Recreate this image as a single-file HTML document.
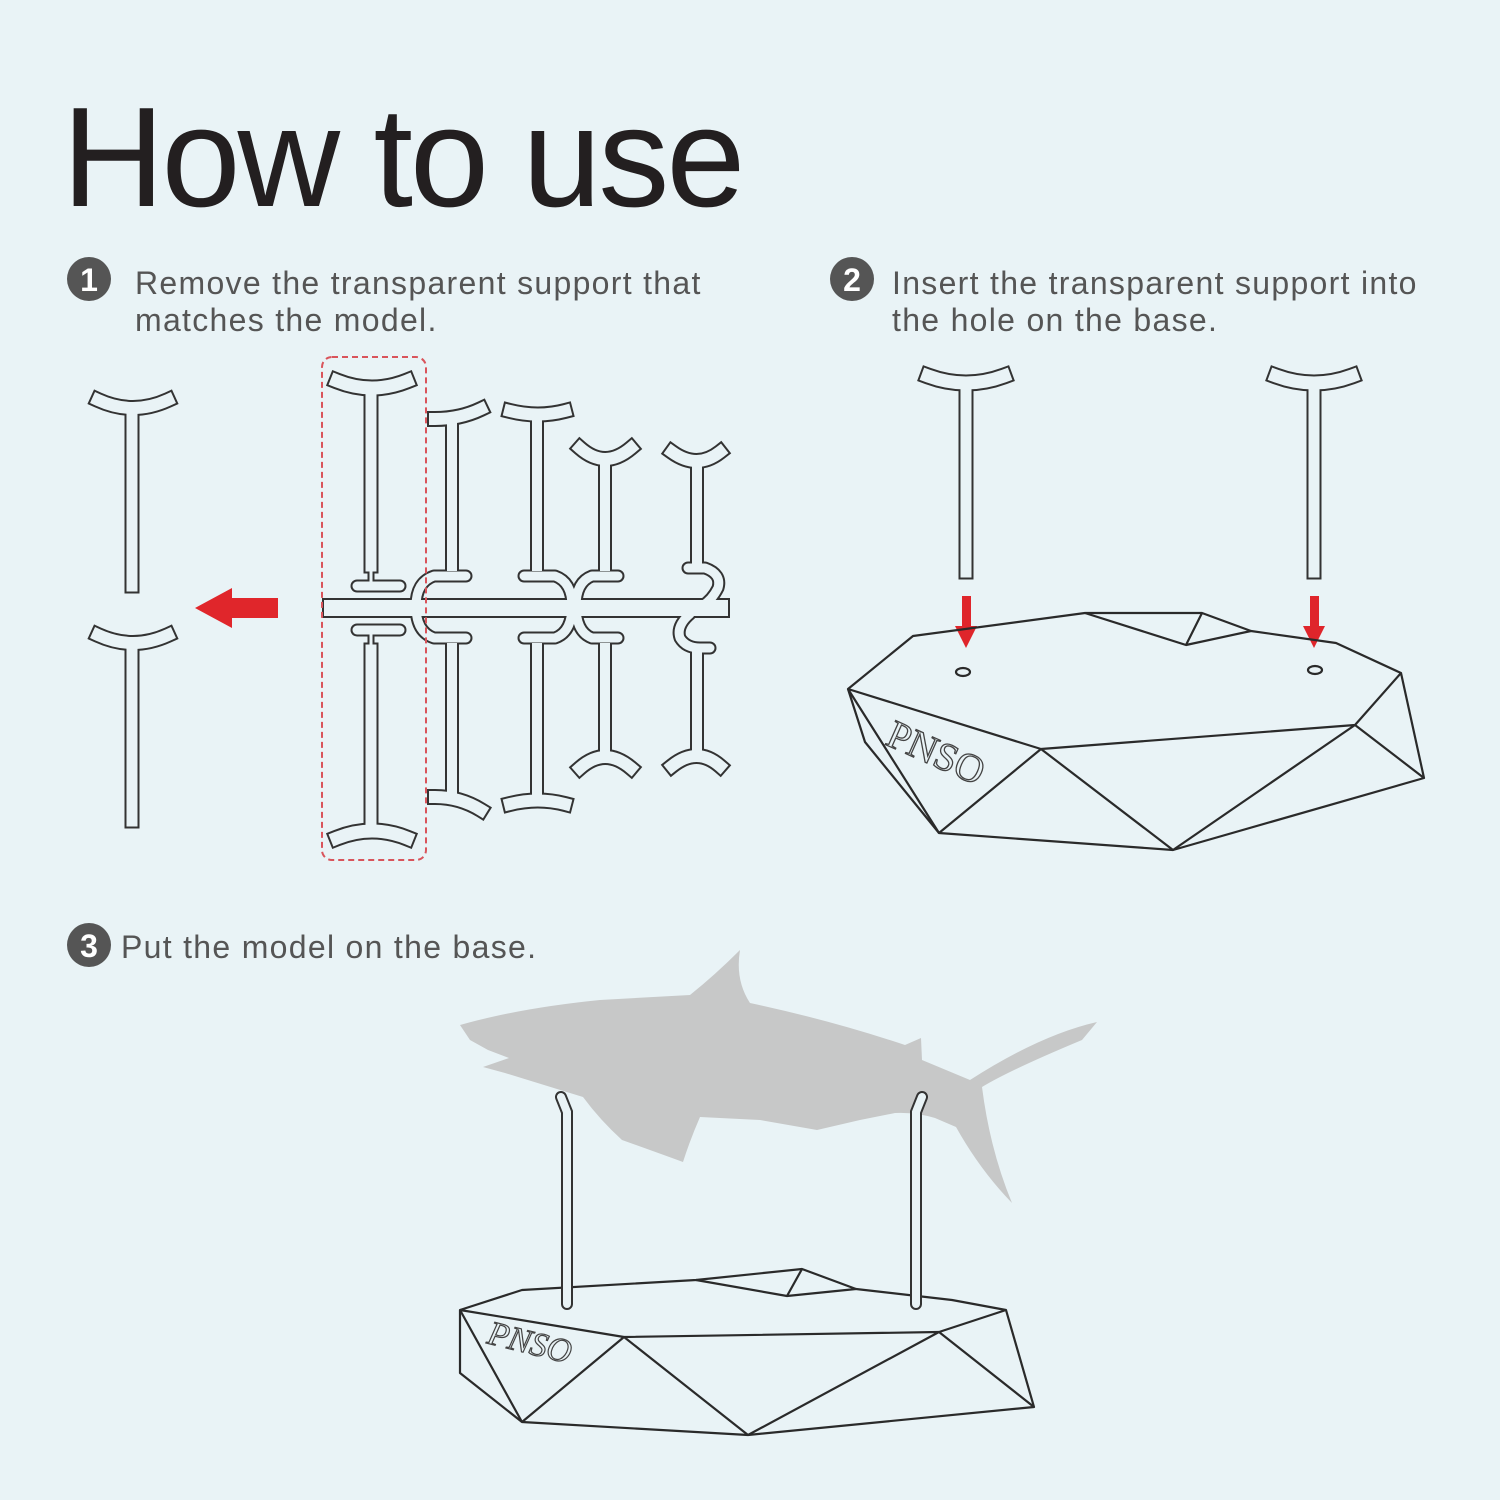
<!DOCTYPE html>
<html><head><meta charset="utf-8"><style>
html,body{margin:0;padding:0;background:#e9f3f6;}
svg{display:block}
</style></head><body>
<svg width="1500" height="1500" viewBox="0 0 1500 1500" xmlns="http://www.w3.org/2000/svg">
<rect width="1500" height="1500" fill="#e9f3f6"/>
<text x="62" y="206" font-family="Liberation Sans, sans-serif" font-size="142" fill="#231f20" letter-spacing="-3">How to use</text>

<g font-family="Liberation Sans, sans-serif" font-size="32" fill="#555" letter-spacing="1.3">
<circle cx="89" cy="279" r="22" fill="#555"/><text x="89" y="291" font-size="32" font-weight="bold" fill="#fff" text-anchor="middle" letter-spacing="0">1</text>
<text x="135" y="294">Remove the transparent support that</text>
<text x="135" y="331">matches the model.</text>
<circle cx="852" cy="279" r="22" fill="#555"/><text x="852" y="291" font-size="32" font-weight="bold" fill="#fff" text-anchor="middle" letter-spacing="0">2</text>
<text x="892" y="294">Insert the transparent support into</text>
<text x="892" y="331">the hole on the base.</text>
<circle cx="89" cy="945" r="22" fill="#555"/><text x="89" y="957" font-size="32" font-weight="bold" fill="#fff" text-anchor="middle" letter-spacing="0">3</text>
<text x="121" y="958">Put the model on the base.</text>
</g>

<defs>
<g id="parts" fill="none">
 <path d="M98,400 Q133,416 168,400" stroke-width="12"/>
 <path d="M132,408 V586" stroke-width="11"/>
 <path d="M98,635 Q133,651 168,635" stroke-width="12"/>
 <path d="M132,643 V821" stroke-width="11"/>
 <path d="M337,381 Q372,395 407,381" stroke-width="13"/>
 <path d="M371,392 V566" stroke-width="11"/>
 <path d="M371,568 V580" stroke-width="5"/>
 <path d="M357,586 H400" stroke-width="9" data-r="1"/>
 <path d="M332,608 H720" stroke-width="16"/>
 <path d="M357,630 H400" stroke-width="9" data-r="1"/>
 <path d="M371,636 V646" stroke-width="5"/>
 <path d="M371,650 V826" stroke-width="11"/>
 <path d="M337,838 Q372,824 407,838" stroke-width="13"/>
 <path d="M466,576 H434 Q416,582 416,606 Q416,632 434,638 H466" stroke-width="9" data-r="1"/>
 <path d="M435,419 Q460,419 481,409" stroke-width="12"/>
 <path d="M452,424 V566" stroke-width="10"/>
 <path d="M452,648 V790" stroke-width="10"/>
 <path d="M435,797 Q460,797 481,810" stroke-width="12"/>
 <path d="M510,411 Q538,418 565,411" stroke-width="12"/>
 <path d="M537,420 V566" stroke-width="10"/>
 <path d="M524,576 H555 Q572,582 572,606 Q572,632 555,638 H524" stroke-width="9" data-r="1"/>
 <path d="M537,648 V798" stroke-width="10"/>
 <path d="M510,804 Q538,797 565,804" stroke-width="12"/>
 <path d="M618,576 H592 Q576,582 576,606 Q576,632 592,638 H618" stroke-width="9" data-r="1"/>
 <path d="M580,448 Q605,470 631,448" stroke-width="12"/>
 <path d="M605,462 V566" stroke-width="10"/>
 <path d="M605,648 V754" stroke-width="10"/>
 <path d="M580,768 Q605,746 631,768" stroke-width="12"/>
 <path d="M672,452 Q697,470 720,452" stroke-width="12"/>
 <path d="M697,464 V562" stroke-width="10"/>
 <path d="M688,568 H705 Q722,574 718,588 Q712,600 702,606" stroke-width="9" data-r="1"/>
 <path d="M690,614 Q676,626 680,638 Q686,648 700,648 H710" stroke-width="9" data-r="1"/>
 <path d="M697,656 V754" stroke-width="10"/>
 <path d="M672,766 Q697,746 720,766" stroke-width="12"/>
 <path d="M928,376 Q966,390 1004,376" stroke-width="13"/>
 <path d="M966,388 V572" stroke-width="11"/>
 <path d="M1276,376 Q1314,390 1352,376" stroke-width="13"/>
 <path d="M1314,388 V572" stroke-width="11"/>
</g>
</defs>

<rect x="322" y="357" width="104" height="503" rx="10" fill="none" stroke="#d9545b" stroke-width="2" stroke-dasharray="6,4"/>

<polygon points="195,608 232,588 232,598 278,598 278,618 232,618 232,628" fill="#e0262b"/>
<g fill="#df252b">
<rect x="962" y="596" width="9" height="34"/><polygon points="955,626 977,626 966,648"/>
<rect x="1310" y="596" width="9" height="34"/><polygon points="1303,626 1325,626 1314,648"/>
</g>

<g fill="none" stroke="#2a2a2a" stroke-width="2.2" stroke-linejoin="round">
 <path d="M848,689 L913,636 L1085,613 L1202,613 L1251,631 L1336,643 L1401,673 L1424,778 L1173,850 L939,833 L865,742 Z"/>
 <path d="M1085,613 L1186,645 L1202,613 M1186,645 L1251,631"/>
 <path d="M848,689 L939,833 M848,689 L1041,749 L1355,725 L1401,673 M1355,725 L1424,778 M1041,749 L939,833 M1041,749 L1173,850 M1355,725 L1173,850"/>
 <ellipse cx="963" cy="672" rx="7" ry="4"/>
 <ellipse cx="1315" cy="670" rx="7" ry="4"/>
</g>
<text x="0" y="0" transform="translate(884,744) rotate(24)" font-family="Liberation Serif, serif" font-size="40" fill="#e9f3f6" stroke="#444" stroke-width="1.3">PNSO</text>

<path fill="#c7c8c8" d="M460,1025 Q520,1008 600,1000 L690,995 Q715,975 740,950 Q735,980 750,1003 Q830,1020 905,1045 L921,1038 L922,1060 L970,1080 Q1040,1035 1097,1022 L1082,1040 Q1010,1070 982,1087 Q990,1150 1012,1203 Q980,1170 956,1127 L935,1118 Q915,1112 895,1113 L860,1120 L817,1130 L760,1120 L700,1117 Q690,1140 683,1162 Q650,1150 622,1140 Q600,1120 583,1097 L505,1073 L483,1067 L509,1058 L488,1050 L470,1040 Z"/>

<g fill="none" stroke="#2a2a2a" stroke-width="2.2" stroke-linejoin="round">
 <path d="M460,1310 L522,1290 L696,1280 L802,1269 L856,1289 L952,1300 L1006,1310 L1034,1407 L748,1435 L522,1422 L460,1373 Z"/>
 <path d="M696,1280 L787,1296 L802,1269 M787,1296 L856,1289"/>
 <path d="M460,1310 L624,1337 L939,1332 L1006,1310 M460,1310 L522,1422 M624,1337 L522,1422 M624,1337 L748,1435 M939,1332 L748,1435 M939,1332 L1034,1407"/>
</g>
<text x="0" y="0" transform="translate(486,1343) rotate(14)" font-family="Liberation Serif, serif" font-style="italic" font-size="34" fill="#e9f3f6" stroke="#444" stroke-width="1.2">PNSO</text>

<g fill="none" stroke-linecap="round">
 <path d="M561,1097 L567,1112 V1304" stroke="#333" stroke-width="12"/>
 <path d="M561,1097 L567,1112 V1304" stroke="#e9f3f6" stroke-width="8"/>
 <path d="M922,1097 L916,1112 V1304" stroke="#333" stroke-width="12"/>
 <path d="M922,1097 L916,1112 V1304" stroke="#e9f3f6" stroke-width="8"/>
</g>
</svg>
<script>
(function(){
 var ns="http://www.w3.org/2000/svg";
 var parts=document.getElementById('parts');
 var svg=document.querySelector('svg');
 var g1=document.createElementNS(ns,'g'),g2=document.createElementNS(ns,'g');
 parts.querySelectorAll('path').forEach(function(p){
  var w=parseFloat(p.getAttribute('stroke-width'));
  var cap=p.getAttribute('data-r')?'round':'square';
  var a=p.cloneNode(),b=p.cloneNode();
  var wa=w+4, wb=w;
  if(w<6){wa=w+2;wb=Math.max(w-2,1);}
  a.setAttribute('stroke','#333');a.setAttribute('stroke-width',wa);a.setAttribute('fill','none');a.setAttribute('stroke-linecap',cap);a.setAttribute('stroke-linejoin','round');
  b.setAttribute('stroke','#e9f3f6');b.setAttribute('stroke-width',wb);b.setAttribute('fill','none');b.setAttribute('stroke-linecap',cap);b.setAttribute('stroke-linejoin','round');
  g1.appendChild(a);g2.appendChild(b);
 });
 var dashed=svg.querySelector('rect[stroke-dasharray]');
 svg.insertBefore(g1,dashed);svg.insertBefore(g2,dashed);
})();
</script>
</body></html>
